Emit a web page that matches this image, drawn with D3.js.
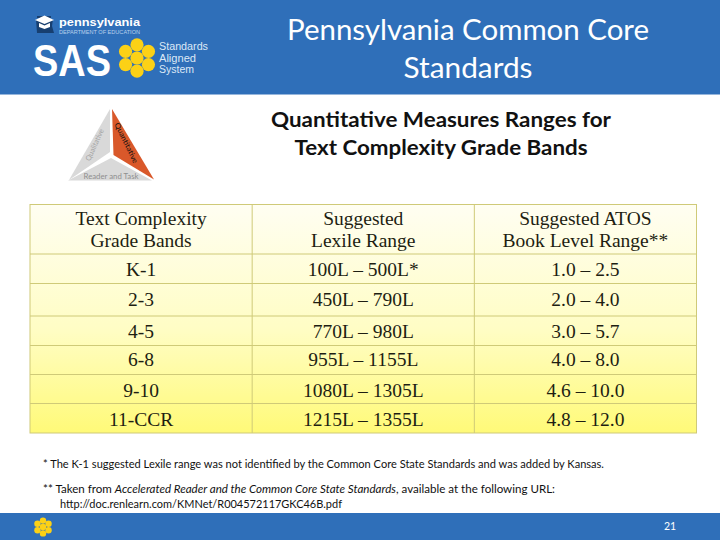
<!DOCTYPE html>
<html>
<head>
<meta charset="utf-8">
<script src="https://d3js.org/d3.v7.min.js"></script>
<style>
  html, body { margin: 0; padding: 0; background: #fff; }
  svg { display: block; }
  .cell { font-family: "Liberation Serif", serif; font-size: 19.5px; fill: #1e1e12; text-anchor: middle; font-variant-numeric: oldstyle-nums; }
  .note { font-family: Lato, sans-serif; font-size: 10.5px; fill: #111; }
</style>
</head>
<body>
<svg id="slide" width="720" height="540"></svg>
<script>
const headers = [
  ["Text Complexity", "Grade Bands"],
  ["Suggested", "Lexile Range"],
  ["Suggested ATOS", "Book Level Range**"]
];
const gradeBands = ["K-1", "2-3", "4-5", "6-8", "9-10", "11-CCR"];
const lexileRanges = ["100L – 500L*", "450L – 790L", "770L – 980L", "955L – 1155L", "1080L – 1305L", "1215L – 1355L"];
const atosRanges = ["1.0 – 2.5", "2.0 – 4.0", "3.0 – 5.7", "4.0 – 8.0", "4.6 – 10.0", "4.8 – 12.0"];
const titleLines = ["Pennsylvania Common Core", "Standards"];
const subtitleLines = ["Quantitative Measures Ranges for", "Text Complexity Grade Bands"];

const BLUE = "#2f6fb9";
const GRID = "#cfca78";
const svg = d3.select("#slide");

const columns = [0, 1, 2];
const rowKeys = ["head"].concat(gradeBands);
const x = d3.scaleBand().domain(columns).range([30, 696.5]);
const rowEdge = d3.scaleOrdinal()
  .domain(d3.range(rowKeys.length + 1))
  .range([204.5, 254, 283.5, 316, 345.5, 374.5, 403.5, 433]);
const baseline = d3.scaleOrdinal()
  .domain(gradeBands)
  .range([276, 306, 337.5, 366, 396.5, 425.5]);

// gradient for the table body
const defs = svg.append("defs");
const grad = defs.append("linearGradient")
  .attr("id", "tableFill").attr("x1", 0).attr("x2", 0).attr("y1", 0).attr("y2", 1);
grad.append("stop").attr("offset", "0%").attr("stop-color", "#fffef2");
grad.append("stop").attr("offset", "55%").attr("stop-color", "#fffdc4");
grad.append("stop").attr("offset", "100%").attr("stop-color", "#fffa78");

function label(parent, str, px, py, size, opts) {
  opts = opts || {};
  const t = parent.append("text")
    .attr("x", px).attr("y", py)
    .style("font-family", opts.family || "Lato, sans-serif")
    .style("font-size", size + "px")
    .style("font-weight", opts.weight || "normal")
    .style("fill", opts.fill || "#111")
    .attr("text-anchor", opts.anchor || "start")
    .text(str);
  if (opts.width) t.attr("textLength", opts.width).attr("lengthAdjust", "spacingAndGlyphs");
  return t;
}

function flower(parent, cx, cy, r) {
  const g = parent.append("g").attr("transform", `translate(${cx},${cy})`);
  const angles = [30, 90, 150, 210, 270, 330];
  angles.forEach(a => {
    g.append("circle")
      .attr("cx", Math.cos(a * Math.PI / 180) * r * 2)
      .attr("cy", Math.sin(a * Math.PI / 180) * r * 2)
      .attr("r", r).attr("fill", "#fcd116");
  });
  g.append("circle").attr("r", r).attr("fill", "#fcd116");
}

// header and footer bands
svg.append("rect").attr("width", 720).attr("height", 94.5).attr("fill", BLUE);
svg.append("rect").attr("y", 513).attr("width", 720).attr("height", 27).attr("fill", BLUE);

// logo
const keystone = svg.append("g");
keystone.append("path")
  .attr("d", "M37 18 L51 18 L51 16 L37 16 Z M36 19 L53 19 L52 26 L54 33 L37 33 Z")
  .attr("fill", "#173f70");
keystone.append("path").attr("d", "M35 20 L44.5 15.5 L54 20 L44.5 24 Z").attr("fill", "#fff");
keystone.append("path").attr("d", "M39 23 L44.5 25.5 L50 23 L50 27 L44.5 29 L39 27 Z").attr("fill", "#fff");
const SANS = "'Liberation Sans', sans-serif";
label(svg, "pennsylvania", 59, 26, 10, { weight: "bold", fill: "#fff", width: 81, family: SANS });
label(svg, "DEPARTMENT OF EDUCATION", 59, 34, 4.6, { fill: "#b9d0ec", width: 81, family: SANS });
label(svg, "SAS", 33, 75.5, 44, { weight: "bold", fill: "#fff", width: 78, family: SANS });
flower(svg, 137, 58, 6.6);
label(svg, "Standards", 159, 50, 10, { fill: "#dce8f6", width: 49, family: SANS });
label(svg, "Aligned", 159, 61.5, 10, { fill: "#dce8f6", width: 37, family: SANS });
label(svg, "System", 159, 73, 10, { fill: "#dce8f6", width: 35, family: SANS });

// titles
titleLines.forEach((line, i) => {
  label(svg, line, 468, 40 + i * 38, 29, { anchor: "middle", fill: "#fff",
    width: i === 0 ? 362 : 129 });
});
subtitleLines.forEach((line, i) => {
  label(svg, line, 441, 127 + i * 28, 21, { anchor: "middle", weight: 700, fill: "#111",
    width: i === 0 ? 340 : 293 });
});

// triangle
const tri = svg.append("g");
tri.append("path").attr("d", "M110 109 L110 152 L69 180 Z").attr("fill", "#d9d9d9");
tri.append("path").attr("d", "M112 109 L113.5 155 L154 179.5 Z").attr("fill", "#d9582a");
tri.append("path").attr("d", "M68 180.5 L111 158 L152 180.5 Z").attr("fill", "#d9d9d9");
label(tri, "Qualitative", 0, 0, 7.5, { fill: "#a3a3a3", anchor: "middle", width: 34 })
  .attr("transform", "translate(97,146) rotate(-66)");
label(tri, "Quantitative", 0, 0, 7.5, { fill: "#111", anchor: "middle", width: 44 })
  .attr("transform", "translate(124,144) rotate(64)");
label(tri, "Reader and Task", 111, 178.5, 7.5, { fill: "#8f8f8f", anchor: "middle", width: 55 });

// table
const table = svg.append("g");
table.append("rect")
  .attr("x", x(0)).attr("y", rowEdge(0))
  .attr("width", x.bandwidth() * 3).attr("height", rowEdge(7) - rowEdge(0))
  .attr("fill", "url(#tableFill)").attr("stroke", GRID).attr("stroke-width", 1);

table.selectAll("line.row")
  .data(d3.range(1, 7))
  .join("line").attr("class", "row")
  .attr("x1", x(0)).attr("x2", x(2) + x.bandwidth())
  .attr("y1", d => rowEdge(d)).attr("y2", d => rowEdge(d))
  .attr("stroke", GRID);

table.selectAll("line.col")
  .data([1, 2])
  .join("line").attr("class", "col")
  .attr("x1", d => x(d)).attr("x2", d => x(d))
  .attr("y1", rowEdge(0)).attr("y2", rowEdge(7))
  .attr("stroke", GRID);

headers.forEach((lines, c) => {
  lines.forEach((line, i) => {
    table.append("text").attr("class", "cell")
      .attr("x", x(c) + x.bandwidth() / 2)
      .attr("y", 225 + i * 22)
      .text(line);
  });
});

[gradeBands, lexileRanges, atosRanges].forEach((values, c) => {
  table.selectAll(`text.col${c}`)
    .data(values)
    .join("text").attr("class", `cell col${c}`)
    .attr("x", x(c) + x.bandwidth() / 2)
    .attr("y", (d, i) => baseline(gradeBands[i]))
    .text(d => d);
});

// footnotes
label(svg, "* The K-1 suggested Lexile range was not identified by the Common Core State Standards and was added by Kansas.", 43, 468, 10.5, { width: 561 });
const n2 = svg.append("text").attr("class", "note").attr("x", 43).attr("y", 493)
  .attr("textLength", 512).attr("lengthAdjust", "spacingAndGlyphs");
n2.append("tspan").text("** Taken from ");
n2.append("tspan").style("font-style", "italic").text("Accelerated Reader and the Common Core State Standards");
n2.append("tspan").text(", available at the following URL:");
label(svg, "http://doc.renlearn.com/KMNet/R004572117GKC46B.pdf", 60, 508, 10.5, { width: 282 });

// footer
flower(svg, 43, 527, 3.2);
label(svg, "21", 670, 530, 10.5, { anchor: "middle", fill: "#fff" });
</script>
</body>
</html>
